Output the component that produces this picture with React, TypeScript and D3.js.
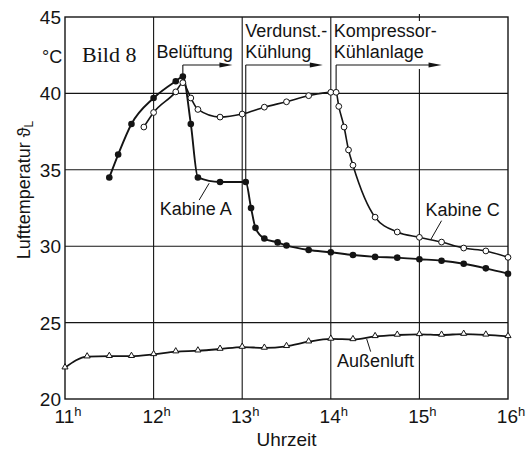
import React from "react";
import * as d3 from "d3";

// ---- data ----
const kabineA_t = [11.5, 11.6, 11.75, 12.0, 12.25, 12.33, 12.42, 12.5, 12.75, 13.04, 13.1, 13.15, 13.25, 13.4, 13.5, 13.75, 14.0, 14.25, 14.5, 14.75, 15.0, 15.25, 15.5, 15.75, 16.0];
const kabineA_v = [34.5, 36.0, 38.0, 39.7, 40.8, 41.1, 38.0, 34.5, 34.2, 34.2, 32.5, 31.2, 30.5, 30.25, 30.05, 29.75, 29.6, 29.42, 29.3, 29.25, 29.15, 29.05, 28.85, 28.55, 28.2];

const kabineC_t = [11.89, 12.0, 12.25, 12.33, 12.42, 12.5, 12.75, 13.0, 13.25, 13.5, 13.75, 14.0, 14.06, 14.09, 14.15, 14.2, 14.25, 14.5, 14.75, 15.0, 15.25, 15.5, 15.75, 16.0];
const kabineC_v = [37.8, 38.75, 40.1, 40.7, 39.7, 38.95, 38.45, 38.65, 39.1, 39.45, 39.85, 40.07, 40.07, 39.15, 37.8, 36.3, 35.3, 31.9, 30.93, 30.58, 30.27, 29.88, 29.69, 29.27];

const aussen_t = [11.0, 11.25, 11.5, 11.75, 12.0, 12.25, 12.5, 12.75, 13.0, 13.25, 13.5, 13.75, 14.0, 14.25, 14.5, 14.75, 15.0, 15.25, 15.5, 15.75, 16.0];
const aussen_v = [22.05, 22.77, 22.8, 22.8, 22.92, 23.1, 23.16, 23.27, 23.4, 23.34, 23.45, 23.75, 23.93, 23.9, 24.1, 24.19, 24.23, 24.19, 24.25, 24.2, 24.1];

const xTicks = [11, 12, 13, 14, 15, 16];
const yTicks = [20, 25, 30, 35, 40, 45];

// phases: label lines, start time (vertical marker to curve), start temp, end time of arrow
const phaseLabels = [["Belüftung"], ["Verdunst.-", "Kühlung"], ["Kompressor-", "Kühlanlage"]];
const phaseLabelHour = [12, 13, 14];
const phaseStart = [12.33, 13.04, 14.06];
const phaseStartTemp = [41.1, 34.2, 40.07];
const phaseEnd = [12.89, 13.91, 15.25];

// series labels: text position and leader line, in data units
const seriesLabels = ["Kabine A", "Kabine C", "Außenluft"];
const labelPos = [[12.07, 32.04], [15.07, 31.98], [14.07, 22.1]];
const leaderFrom = [[12.627, 34.12], [15.13, 30.45], [14.405, 23.93]];
const leaderTo = [[12.514, 33.02], [15.25, 31.67], [14.45, 23.1]];

const W = 530, H = 450;
const M = { left: 65, right: 22, top: 17, bottom: 51 };
const INK = "#141414";
const FONT = "'Liberation Sans', Arial, sans-serif";

export default function App() {
  const x = d3.scaleLinear().domain([11, 16]).range([M.left, W - M.right]);
  const y = d3.scaleLinear().domain([20, 45]).range([H - M.bottom, M.top]);

  const line = d3
    .line<[number, number]>()
    .x((d) => x(d[0]))
    .y((d) => y(d[1]))
    .curve(d3.curveMonotoneX);

  const A = kabineA_t.map((t, i) => [t, kabineA_v[i]] as [number, number]);
  const C = kabineC_t.map((t, i) => [t, kabineC_v[i]] as [number, number]);
  const L = aussen_t.map((t, i) => [t, aussen_v[i]] as [number, number]);

  const x0 = x(11), x1 = x(16), y0 = y(20), y1 = y(45);
  const arrowY = 65;
  const tri = d3.symbol().type(d3.symbolTriangle).size(16);

  return (
    <svg
      width={W}
      height={H}
      style={{ position: "absolute", left: 0, top: 0, background: "#fff" }}
      fontFamily={FONT}
    >
      <rect width={W} height={H} fill="#fff" />
      {/* grid */}
      {yTicks.filter((v) => v > 20 && v < 45).map((v) => (
        <line key={"gy" + v} x1={x0} x2={x1} y1={y(v)} y2={y(v)} stroke={INK} strokeWidth={1.1} />
      ))}
      {xTicks.filter((v) => v > 11 && v < 16).map((v) => (
        <line
          key={"gx" + v}
          x1={x(v)}
          x2={x(v)}
          y1={v === 15 ? arrowY + 4 : y1}
          y2={y0}
          stroke={INK}
          strokeWidth={1.1}
        />
      ))}
      <line x1={x(15)} x2={x(15)} y1={y1 - 3} y2={y1 + 4} stroke={INK} strokeWidth={1.1} />
      <rect x={x0} y={y1} width={x1 - x0} height={y0 - y1} fill="none" stroke={INK} strokeWidth={1.4} />

      {/* y tick labels */}
      {yTicks.map((v) => (
        <text key={"yl" + v} x={x0 - 4} y={y(v) + 7} textAnchor="end" fontSize={19} fill={INK}>
          {v}
        </text>
      ))}
      <text x={42} y={63} fontSize={18} fill={INK}>°C</text>

      {/* x tick labels */}
      {xTicks.map((v) => (
        <text key={"xl" + v} x={x(v) + 3} y={y0 + 24} textAnchor="middle" fontSize={19} fill={INK}>
          {v}
          <tspan fontSize={13} dy={-7}>h</tspan>
        </text>
      ))}
      <text x={(x0 + x1) / 2} y={446} textAnchor="middle" fontSize={19} fill={INK}>Uhrzeit</text>
      <text transform="translate(30,190) rotate(-90)" textAnchor="middle" fontSize={18} fill={INK}>
        Lufttemperatur ϑ<tspan fontSize={12} dy={3}>L</tspan>
      </text>

      <text x={82} y={62} fontFamily="'Liberation Serif', 'Times New Roman', serif" fontSize={22} fill={INK}>
        Bild 8
      </text>

      {/* phases */}
      {phaseLabels.map((lines, i) => (
        <g key={"ph" + i}>
          {lines.map((s, j) => (
            <text
              key={j}
              x={x(phaseLabelHour[i]) + 3}
              y={(lines.length === 1 ? 58 : 37 + j * 21)}
              fontSize={18}
              fill={INK}
            >
              {s}
            </text>
          ))}
          <line x1={x(phaseStart[i])} x2={x(phaseStart[i])} y1={arrowY} y2={y(phaseStartTemp[i])} stroke={INK} strokeWidth={1.1} />
          <line x1={x(phaseStart[i])} x2={x(phaseEnd[i]) - 10} y1={arrowY} y2={arrowY} stroke={INK} strokeWidth={1.1} />
          <path
            d={`M${x(phaseEnd[i])},${arrowY} L${x(phaseEnd[i]) - 13},${arrowY - 2.5} L${x(phaseEnd[i]) - 13},${arrowY + 2.5} Z`}
            fill={INK}
          />
        </g>
      ))}

      {/* series */}
      <path d={line(L) || ""} fill="none" stroke={INK} strokeWidth={1.8} />
      <path d={line(C) || ""} fill="none" stroke={INK} strokeWidth={1.6} />
      <path d={line(A) || ""} fill="none" stroke={INK} strokeWidth={1.9} />

      {L.map((d, i) => (
        <path key={"lt" + i} d={tri() || ""} transform={`translate(${x(d[0])},${y(d[1]) - 0.5})`} fill="#fff" stroke={INK} strokeWidth={1} />
      ))}
      {C.map((d, i) => (
        <circle key={"c" + i} cx={x(d[0])} cy={y(d[1])} r={2.9} fill="#fff" stroke={INK} strokeWidth={1} />
      ))}
      {A.map((d, i) => (
        <circle key={"a" + i} cx={x(d[0])} cy={y(d[1])} r={3.3} fill={INK} />
      ))}

      {/* series labels */}
      {seriesLabels.map((s, i) => (
        <g key={"sl" + i}>
          <line
            x1={x(leaderFrom[i][0])}
            y1={y(leaderFrom[i][1])}
            x2={x(leaderTo[i][0])}
            y2={y(leaderTo[i][1])}
            stroke={INK}
            strokeWidth={1}
          />
          <text x={x(labelPos[i][0])} y={y(labelPos[i][1])} fontSize={18} fill={INK}>
            {s}
          </text>
        </g>
      ))}
    </svg>
  );
}
